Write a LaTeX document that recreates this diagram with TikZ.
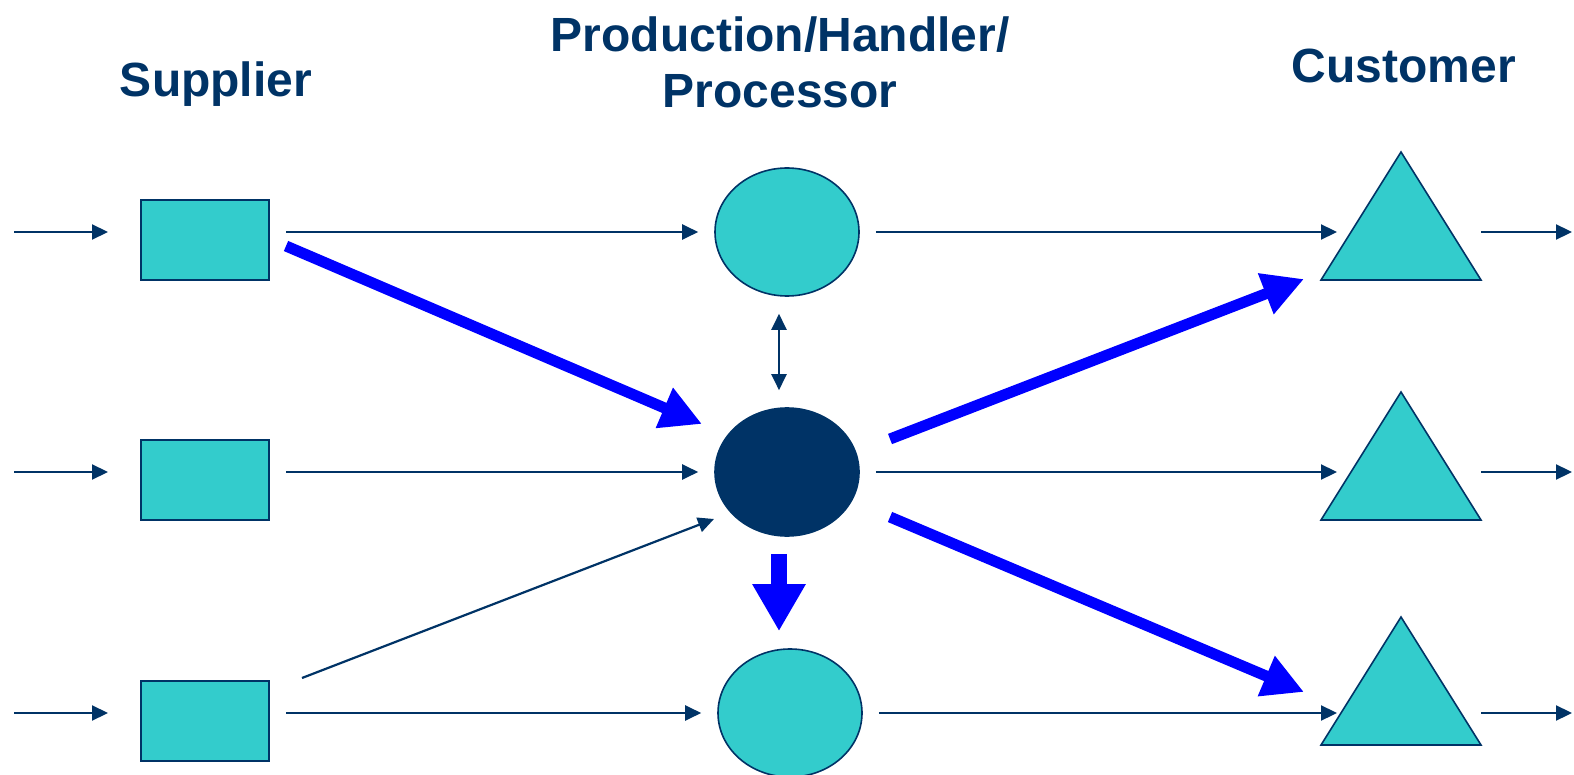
\documentclass[tikz,border=0pt]{standalone}
\usepackage{fontspec}
\setmainfont{Liberation Sans}
\usetikzlibrary{arrows.meta,shapes.geometric,calc}
\definecolor{navy}{HTML}{003366}
\definecolor{teal2}{HTML}{33CCCC}
\definecolor{vblue}{HTML}{0000FF}
\begin{document}
\begin{tikzpicture}[x=1pt,y=-1pt,
  box/.style={draw=navy,line width=2pt,fill=teal2,minimum width=128pt,minimum height=80pt,inner sep=0pt},
  oval/.style={ellipse,draw=navy,line width=1.6pt,fill=teal2,minimum width=144pt,minimum height=128pt,inner sep=0pt},
  tri/.style={draw=navy,line width=1.6pt,fill=teal2,line join=miter},
  flow/.style={draw=navy,line width=2.2pt,-{Triangle[length=16pt,width=15pt]}},
  flow2/.style={draw=navy,line width=2.2pt,{Triangle[length=16pt,width=15pt]}-{Triangle[length=16pt,width=15pt]}},
  thick/.style={draw=vblue,line width=11pt,-{Triangle[length=41pt,width=41pt]}},
  title/.style={text=navy,font=\fontsize{48}{56}\selectfont\bfseries,align=center}]
\useasboundingbox (0,0) rectangle (1574,775);

% titles
\node[title] (tsup) at (216,84) {Supplier};
\node[title] (tpro) at (780,62) {Production/Handler/\\Processor};
\node[title] (tcus) at (1404,66) {Customer};

% suppliers
\node[box] (s1) at (205,240) {};
\node[box] (s2) at (205,480) {};
\node[box] (s3) at (205,721) {};

% processors
\node[oval] (p1) at (787,232) {};
\node[oval,fill=navy] (p2) at (787,472) {};
\node[oval] (p3) at (790,713) {};

% customers
\coordinate (c1) at (1401,232);
\coordinate (c2) at (1401,472);
\coordinate (c3) at (1401,713);
\draw[tri] ($(c1)+(0,-80)$) -- ($(c1)+(80,48)$) -- ($(c1)+(-80,48)$) -- cycle;
\draw[tri] ($(c2)+(0,-80)$) -- ($(c2)+(80,48)$) -- ($(c2)+(-80,48)$) -- cycle;
\draw[tri] ($(c3)+(0,-96)$) -- ($(c3)+(80,32)$) -- ($(c3)+(-80,32)$) -- cycle;

% free ends
\coordinate (in1) at (14,232);
\coordinate (in2) at (14,472);
\coordinate (in3) at (14,713);
\coordinate (out1) at (1572,232);
\coordinate (out2) at (1572,472);
\coordinate (out3) at (1572,713);

% inputs
\draw[flow] (in1) -- ($(s1.west)+(-32,-8)$);
\draw[flow] (in2) -- ($(s2.west)+(-32,-8)$);
\draw[flow] (in3) -- ($(s3.west)+(-32,-8)$);

% supplier -> processor
\draw[flow] ($(s1.east)+(16,-8)$) -- ($(p1.west)+(-16,0)$);
\draw[flow] ($(s2.east)+(16,-8)$) -- ($(p2.west)+(-16,0)$);
\draw[flow] ($(s3.east)+(16,-8)$) -- ($(p3.west)+(-16,0)$);
\draw[flow] ($(s3.north east)+(32,-2)$) -- ($(p2.center)+(-73,47)$);

% processor -> customer
\draw[flow] ($(p1.east)+(16,0)$) -- ($(c1)+(-64,0)$);
\draw[flow] ($(p2.east)+(16,0)$) -- ($(c2)+(-64,0)$);
\draw[flow] ($(p3.east)+(16,0)$) -- ($(c3)+(-64,0)$);

% outputs
\draw[flow] ($(c1)+(80,0)$) -- (out1);
\draw[flow] ($(c2)+(80,0)$) -- (out2);
\draw[flow] ($(c3)+(80,0)$) -- (out3);

% between processors
\draw[flow2] ($(p1.south)+(-8,17)$) -- ($(p2.north)+(-8,-17)$);
\draw[draw=vblue,line width=16pt,-{Triangle[length=47pt,width=50pt]}] ($(p2.south)+(-8,17)$) -- ($(p3.north)+(-11,-17)$);

% thick flows
\draw[thick] ($(s1.east)+(16,6)$) -- ($(p2.center)+(-85,-48)$);
\draw[thick] ($(p2.center)+(103,-33)$) -- ($(c1)+(-97,47)$);
\draw[thick] ($(p2.center)+(103,45)$) -- ($(c3)+(-97,-21)$);
\end{tikzpicture}
\end{document}
